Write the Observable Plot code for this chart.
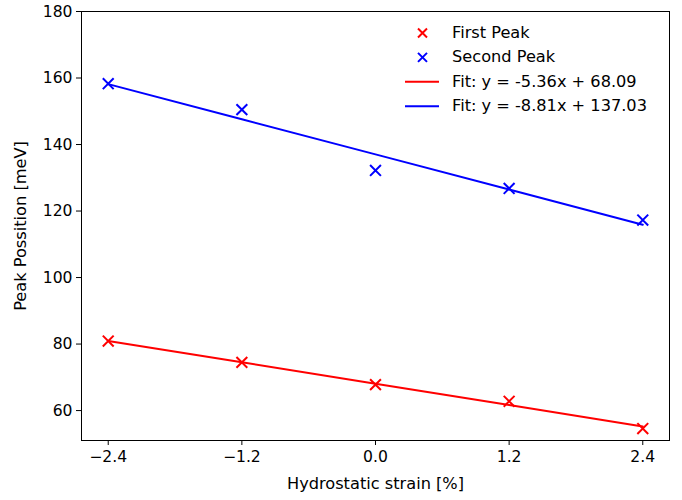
<!DOCTYPE html>
<html>
<head>
<meta charset="utf-8">
<script src="https://cdn.jsdelivr.net/npm/d3@7"></script>
<script src="https://cdn.jsdelivr.net/npm/@observablehq/plot@0.6"></script>
<style>
  html, body { margin: 0; padding: 0; background: #fff; }
  #chart svg { font-family: "DejaVu Sans", sans-serif; }
</style>
</head>
<body>
<div id="chart"></div>
<script>
const strain = [-2.4, -1.2, 0.0, 1.2, 2.4];
const firstPeak = [80.9, 74.5, 67.8, 62.8, 54.6];
const secondPeak = [158.3, 150.5, 132.2, 126.8, 117.3];
const firstFit = [80.95, 74.52, 68.09, 61.66, 55.23];
const secondFit = [158.17, 147.60, 137.03, 126.46, 115.89];
const seriesNames = ["First Peak", "Second Peak", "Fit: y = -5.36x + 68.09", "Fit: y = -8.81x + 137.03"];
const xTicks = [-2.4, -1.2, 0.0, 1.2, 2.4];
const yTicks = [60, 80, 100, 120, 140, 160, 180];

const pts1 = strain.map((x, i) => ({x, y: firstPeak[i]}));
const pts2 = strain.map((x, i) => ({x, y: secondPeak[i]}));
const fit1 = strain.map((x, i) => ({x, y: firstFit[i]}));
const fit2 = strain.map((x, i) => ({x, y: secondFit[i]}));

const FS = 15.6;   // tick labels
const LFS = 16.2;  // axis labels and legend
const chart = Plot.plot({
  width: 682,
  height: 500,
  marginLeft: 81,
  marginRight: 13,
  marginTop: 11,
  marginBottom: 60,
  style: {fontFamily: "DejaVu Sans, sans-serif", fontSize: FS + "px", color: "#000", background: "#fff"},
  x: {domain: [-2.64, 2.64]},
  y: {domain: [51, 180]},
  marks: [
    Plot.axisX({ticks: xTicks, tickFormat: d3.format(".1f"), tickSize: 5, tickPadding: 5, fontSize: FS,
      label: null, stroke: "#000", fill: "#000"}),
    Plot.axisX({ticks: [], tickSize: 0, fontSize: LFS,
      label: "Hydrostatic strain [%]", labelAnchor: "center", labelArrow: "none", labelOffset: 48,
      stroke: "#000", fill: "#000"}),
    Plot.axisY({ticks: yTicks, tickFormat: d3.format("d"), tickSize: 5, tickPadding: 4, fontSize: FS,
      label: null, stroke: "#000", fill: "#000"}),
    Plot.axisY({ticks: [], tickSize: 0, fontSize: LFS,
      label: "Peak Possition [meV]", labelAnchor: "center", labelArrow: "none", labelOffset: 67,
      stroke: "#000", fill: "#000"}),
    Plot.line(fit1, {x: "x", y: "y", stroke: "red", strokeWidth: 2}),
    Plot.line(fit2, {x: "x", y: "y", stroke: "blue", strokeWidth: 2}),
    Plot.dot(pts1, {x: "x", y: "y", symbol: "times", r: 5, stroke: "red", strokeWidth: 2}),
    Plot.dot(pts2, {x: "x", y: "y", symbol: "times", r: 5, stroke: "blue", strokeWidth: 2}),
    Plot.frame({stroke: "#000", strokeWidth: 1})
  ]
});
document.getElementById("chart").appendChild(chart);

// Legend inside the plot area (top right)
const svg = d3.select(chart);
const leg = svg.append("g")
  .attr("font-family", "DejaVu Sans, sans-serif").attr("font-size", LFS).attr("text-anchor", "start");
const legItems = [
  {name: seriesNames[0], color: "red", kind: "marker"},
  {name: seriesNames[1], color: "blue", kind: "marker"},
  {name: seriesNames[2], color: "red", kind: "line"},
  {name: seriesNames[3], color: "blue", kind: "line"}
];
legItems.forEach((d, i) => {
  const cy = 33 + i * 24.4;
  if (d.kind === "marker") {
    const r = 4.5;
    leg.append("path")
      .attr("d", `M${422.5 - r},${cy - r}L${422.5 + r},${cy + r}M${422.5 - r},${cy + r}L${422.5 + r},${cy - r}`)
      .attr("stroke", d.color).attr("stroke-width", 2).attr("fill", "none");
  } else {
    leg.append("line").attr("x1", 405).attr("x2", 439).attr("y1", cy).attr("y2", cy)
      .attr("stroke", d.color).attr("stroke-width", 2);
  }
  leg.append("text").attr("x", 452).attr("y", cy).attr("dy", "0.3em").attr("fill", "#000")
    .attr("text-anchor", "start").text(d.name);
});
</script>
</body>
</html>
